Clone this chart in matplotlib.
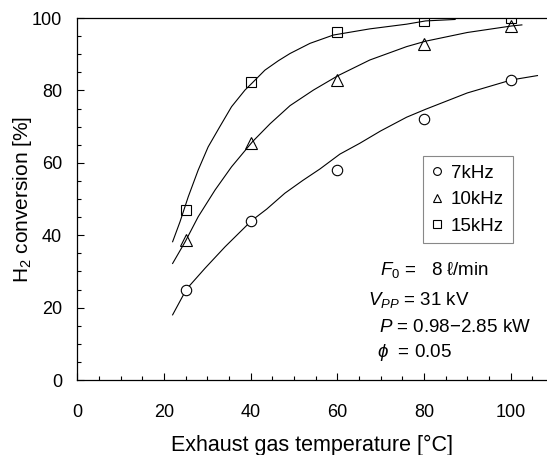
import matplotlib
matplotlib.use('Agg')
import matplotlib.pyplot as plt
from matplotlib.ticker import MultipleLocator

plt.rcParams['font.family'] = ['Liberation Sans', 'DejaVu Sans']
plt.rcParams['mathtext.fontset'] = 'custom'
plt.rcParams['mathtext.rm'] = 'Liberation Sans'
plt.rcParams['mathtext.it'] = 'Liberation Sans:italic'

# measured points
temp = [25, 40, 60, 80, 100]
conv_7k = [25, 44, 58, 72, 83]
conv_10k = [38.7, 65.5, 83, 92.7, 97.7]
conv_15k = [47, 82.2, 96, 99.3, 100]

# fitted curves
fit_x_7k = [22, 25.2, 29.5, 34.1, 40.2, 43.7, 47.9, 52, 56, 60.6, 65.2, 70, 76, 80.4, 90, 100.2, 106.2]
fit_y_7k = [18, 25.1, 30.9, 36.8, 44, 47.2, 51.6, 55.1, 58.3, 62.4, 65.4, 68.8, 72.6, 74.8, 79.3, 82.9, 84.1]
fit_x_10k = [22, 24.9, 27.9, 31.8, 35.6, 40.4, 44.5, 49.1, 54.5, 60.2, 67.5, 76, 80.4, 90, 100.2, 102.6]
fit_y_10k = [32.2, 38.2, 45.1, 52.5, 58.9, 65.8, 70.8, 75.8, 80.1, 84.1, 88.4, 92.1, 93.6, 96, 97.8, 98.1]
fit_x_15k = [22, 23.7, 25.6, 27.9, 30.2, 32.9, 35.6, 38.7, 40.4, 43.3, 46.4, 49.1, 53.7, 59.1, 67.5, 76, 80.4, 87.2]
fit_y_15k = [38.2, 43.7, 50.6, 58, 64.4, 70, 75.5, 80.1, 82.1, 85.6, 88.2, 90.2, 93, 95.3, 97, 98.3, 99.2, 99.6]

fig = plt.figure(figsize=(5.47, 4.55), dpi=100)
ax = fig.add_axes([0.1413, 0.1648, 0.8587, 0.7956])

ax.plot(fit_x_7k, fit_y_7k, color='black', lw=0.8)
ax.plot(fit_x_10k, fit_y_10k, color='black', lw=0.8)
ax.plot(fit_x_15k, fit_y_15k, color='black', lw=0.8)

ax.plot(temp, conv_7k, 'o', mfc='white', mec='black', mew=0.8, ms=7.5, ls='none', label='7kHz')
ax.plot(temp, conv_10k, '^', mfc='none', mec='black', mew=0.8, ms=8, ls='none', label='10kHz')
ax.plot(temp, conv_15k, 's', mfc='none', mec='black', mew=0.8, ms=7, ls='none', label='15kHz')

ax.set_xlim(0, 108.4)
ax.set_ylim(0, 100)
ax.xaxis.set_major_locator(MultipleLocator(20))
ax.xaxis.set_minor_locator(MultipleLocator(5))
ax.yaxis.set_major_locator(MultipleLocator(20))
ax.yaxis.set_minor_locator(MultipleLocator(5))
ax.tick_params(which='both', direction='in', width=0.8, labelsize=13)
ax.tick_params(which='major', length=5)
ax.tick_params(which='minor', length=3)
ax.tick_params(axis='x', pad=17)
ax.tick_params(axis='y', pad=11)
ax.spines['right'].set_visible(False)
for s in ['left', 'bottom', 'top']:
    ax.spines[s].set_linewidth(0.9)

ax.set_xlabel('Exhaust gas temperature [°C]', fontsize=15.5, labelpad=10)
ax.set_ylabel('H$_2$ conversion [%]', fontsize=15, labelpad=-1.5)

leg = ax.legend(loc='upper left', bbox_to_anchor=(423 / 547, 1 - 156 / 455),
                bbox_transform=fig.transFigure, fontsize=13.5, markerscale=0.75,
                handlelength=0.6, handletextpad=0.45, labelspacing=0.5,
                borderaxespad=0, borderpad=0.45, fancybox=False, framealpha=1)
leg.get_frame().set_edgecolor('#888888')
leg.get_frame().set_linewidth(0.8)

ax.text(69.9, 30.4, r'$F_{\mathrm{0}}$ =   8 ℓ/min', fontsize=13.5, va='center')
ax.text(67.1, 22.1, r'$V_{PP}$ = 31 kV', fontsize=13.5, va='center')
ax.text(69.7, 14.4, r'$P$ = 0.98−2.85 kW', fontsize=13.5, va='center')
ax.text(69.1, 7.7, r'$\phi$  = 0.05', fontsize=13.5, va='center')

fig.savefig('out.png', dpi=100)
